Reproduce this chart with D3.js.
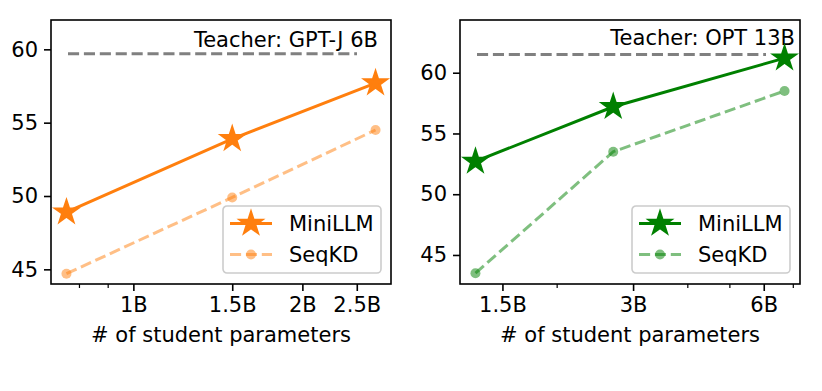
<!DOCTYPE html>
<html>
<head>
<meta charset="utf-8">
<script src="https://cdn.jsdelivr.net/npm/d3@7"></script>
<style>
  body { margin: 0; background: #fff; }
  text { font-family: "DejaVu Sans", sans-serif; fill: #000; }
</style>
</head>
<body>
<div id="chart"></div>
<script>
// ---- data (params in billions, scores) ----
const gptParams = [0.76, 1.5, 2.7];
const gptMiniLLM = [48.9, 53.9, 57.7];
const gptSeqKD = [44.7, 49.9, 54.5];
const gptTeacher = 59.7;
const gptTicks = [1, 1.5, 2, 2.5];
const gptTickLabels = ["1B", "1.5B", "2B", "2.5B"];
const gptMinor = [0.8, 0.9];

const optParams = [1.3, 2.7, 6.7];
const optMiniLLM = [52.7, 57.2, 61.2];
const optSeqKD = [43.5, 53.5, 58.5];
const optTeacher = 61.5;
const optTicks = [1.5, 3, 6];
const optTickLabels = ["1.5B", "3B", "6B"];
const optMinor = [2, 4, 5, 7];

const yTicks = [45, 50, 55, 60];
const seriesNames = ["MiniLLM", "SeqKD"];

function main() {
  var W = 822, H = 391;
  var svg = d3.select("#chart").append("svg")
    .attr("width", W).attr("height", H);

  var panels = [
    { left: 51, right: 391, color: "#ff7f0e", params: gptParams, mini: gptMiniLLM, seq: gptSeqKD,
      teacher: gptTeacher, teacherName: "Teacher: GPT-J 6B", textInset: 13, textLift: 7,
      ydom: [44.0, 62.0], ticks: gptTicks, tickLabels: gptTickLabels, minor: gptMinor,
      legend: { x: 223, y: 206, w: 158, h: 67 } },
    { left: 460, right: 800, color: "#008000", params: optParams, mini: optMiniLLM, seq: optSeqKD,
      teacher: optTeacher, teacherName: "Teacher: OPT 13B", textInset: 5, textLift: 10,
      ydom: [42.61, 64.34], ticks: optTicks, tickLabels: optTickLabels, minor: optMinor,
      legend: { x: 632, y: 206, w: 158, h: 67 } }
  ];
  var top = 20, bottom = 284;
  var star = d3.symbol().type(d3.symbolStar).size(144 / 0.8908)();
  var fs = 21;

  panels.forEach(function(p) {
    var w = p.right - p.left, h = bottom - top;
    var g = svg.append("g").attr("transform", "translate(" + p.left + "," + top + ")");

    // log x with 5% margins like matplotlib
    var lo = Math.log(d3.min(p.params)), hi = Math.log(d3.max(p.params));
    var m = (hi - lo) * 0.05;
    var x = d3.scaleLog().domain([Math.exp(lo - m), Math.exp(hi + m)]).range([0, w]);
    var y = d3.scaleLinear().domain(p.ydom).range([h, 0]);

    // teacher line
    g.append("line")
      .attr("x1", w * 0.05).attr("x2", w * 0.9)
      .attr("y1", y(p.teacher)).attr("y2", y(p.teacher))
      .attr("stroke", "#808080").attr("stroke-width", 3)
      .attr("stroke-dasharray", "11.1,4.8");
    g.append("text")
      .attr("x", w - p.textInset).attr("y", y(p.teacher) - p.textLift)
      .attr("text-anchor", "end").style("font-size", fs + "px")
      .text(p.teacherName);

    var line = d3.line().x(function(d) { return x(d[0]); }).y(function(d) { return y(d[1]); });
    var miniData = p.params.map(function(v, i) { return [v, p.mini[i]]; });
    var seqData = p.params.map(function(v, i) { return [v, p.seq[i]]; });

    // MiniLLM
    g.append("path").datum(miniData)
      .attr("fill", "none").attr("stroke", p.color).attr("stroke-width", 3)
      .attr("d", line);
    g.selectAll(".star").data(miniData).enter().append("path")
      .attr("d", star)
      .attr("transform", function(d) { return "translate(" + x(d[0]) + "," + y(d[1]) + ")"; })
      .attr("fill", p.color).attr("stroke", p.color).attr("stroke-width", 2)
      .attr("stroke-linejoin", "miter");

    // SeqKD
    g.append("path").datum(seqData)
      .attr("fill", "none").attr("stroke", p.color).attr("stroke-opacity", 0.5)
      .attr("stroke-width", 3).attr("stroke-dasharray", "11.1,4.8")
      .attr("d", line);
    g.selectAll(".dot").data(seqData).enter().append("circle")
      .attr("cx", function(d) { return x(d[0]); })
      .attr("cy", function(d) { return y(d[1]); })
      .attr("r", 5).attr("fill", p.color).attr("fill-opacity", 0.5);

    // axes
    var xAxis = g.append("g").attr("transform", "translate(0," + h + ")")
      .call(d3.axisBottom(x).tickValues(p.ticks)
        .tickFormat(function(d, i) { return p.tickLabels[i]; })
        .tickSize(7).tickPadding(6));
    g.append("g").attr("transform", "translate(0," + h + ")")
      .call(d3.axisBottom(x).tickValues(p.minor).tickFormat("").tickSize(4))
      .call(function(s) { s.select(".domain").remove(); s.selectAll("line").attr("stroke-width", 1.2); });
    var yAxis = g.append("g")
      .call(d3.axisLeft(y).tickValues(yTicks).tickSize(7).tickPadding(6));
    [xAxis, yAxis].forEach(function(a) {
      a.selectAll("text").style("font-size", fs + "px").attr("fill", "#000")
        .style("font-family", "DejaVu Sans");
      a.selectAll("line").attr("stroke-width", 1.6);
      a.select(".domain").remove();
    });

    // frame
    g.append("rect").attr("width", w).attr("height", h)
      .attr("fill", "none").attr("stroke", "#000").attr("stroke-width", 1.6);

    // x label
    g.append("text").attr("x", w / 2).attr("y", 341.5 - top)
      .attr("text-anchor", "middle").style("font-size", fs + "px")
      .text("# of student parameters");

    // legend
    var L = p.legend;
    var lg = svg.append("g").attr("transform", "translate(" + L.x + "," + L.y + ")");
    lg.append("rect").attr("width", L.w).attr("height", L.h).attr("rx", 4)
      .attr("fill", "#fff").attr("fill-opacity", 0.8)
      .attr("stroke", "#cccccc").attr("stroke-width", 1.6);
    seriesNames.forEach(function(name, i) {
      var cy = 17.5 + i * 31;
      var row = lg.append("g").attr("transform", "translate(0," + cy + ")");
      if (i === 0) {
        row.append("line").attr("x1", 7).attr("x2", 49)
          .attr("stroke", p.color).attr("stroke-width", 3);
        row.append("path").attr("d", star).attr("transform", "translate(28,0)")
          .attr("fill", p.color).attr("stroke", p.color).attr("stroke-width", 2);
      } else {
        row.append("line").attr("x1", 7).attr("x2", 49)
          .attr("stroke", p.color).attr("stroke-opacity", 0.5)
          .attr("stroke-width", 3).attr("stroke-dasharray", "11.1,4.8");
        row.append("circle").attr("cx", 28).attr("r", 5)
          .attr("fill", p.color).attr("fill-opacity", 0.5);
      }
      row.append("text").attr("x", 66).attr("y", 7.5)
        .style("font-size", fs + "px").text(name);
    });
  });
}
main();
</script>
</body>
</html>
